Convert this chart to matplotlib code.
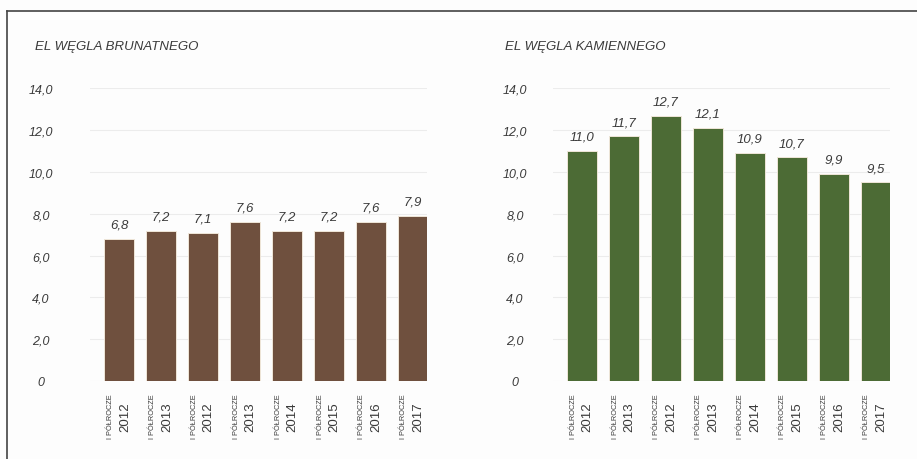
import matplotlib.pyplot as plt
from matplotlib.lines import Line2D
import matplotlib.transforms as mtransforms

plt.rcParams['font.family'] = ['Liberation Sans', 'DejaVu Sans']

# Dane
okresy = ["I PÓŁROCZE"] * 8
lata = ["2012", "2013", "2012", "2013", "2014", "2015", "2016", "2017"]
brunatny = [6.8, 7.2, 7.1, 7.6, 7.2, 7.2, 7.6, 7.9]
kamienny = [11.0, 11.7, 12.7, 12.1, 10.9, 10.7, 9.9, 9.5]

yticks = [0, 2, 4, 6, 8, 10, 12, 14]
ytick_labels = ["0", "2,0", "4,0", "6,0", "8,0", "10,0", "12,0", "14,0"]

kolor_tekstu = "#3a3a3a"

fig = plt.figure(figsize=(9.17, 4.6), dpi=100, facecolor="#fdfdfd")

# ramka (tylko górna i lewa krawędź)
fig.add_artist(Line2D([7 / 917, 7 / 917], [0, 1 - 12 / 460], color="#444444", lw=1.2))
fig.add_artist(Line2D([7 / 917, 1], [1 - 12 / 460, 1 - 12 / 460], color="#444444", lw=1.2))


def wykres(left_px, wartosci, kolor, tytul, tytul_x, pad):
    ax = fig.add_axes([left_px / 917, 78 / 460, 337 / 917, 292.6 / 460])
    ax.set_facecolor("none")
    x = range(len(wartosci))
    ax.bar(x, wartosci, width=0.71, color=kolor, edgecolor="#efe6d8", linewidth=0.7, zorder=2)
    ax.set_xlim(-0.7, 7.33)
    ax.set_ylim(0, 14)
    ax.set_yticks(yticks)
    ax.set_yticklabels(ytick_labels, fontstyle="italic", fontsize=9, color=kolor_tekstu, ha="center")
    ax.tick_params(axis="y", length=0, pad=pad)
    ax.set_xticks([])
    for s in ax.spines.values():
        s.set_visible(False)
    ax.grid(axis="y", color="#ececec", linewidth=0.8, zorder=0)

    # etykiety wartości
    for i, v in enumerate(wartosci):
        ax.annotate(f"{v:.1f}".replace(".", ","), (i, v), xytext=(0, 6), textcoords="offset points",
                    ha="center", va="bottom", fontsize=9.5, fontstyle="italic", color=kolor_tekstu)

    # podpisy osi X: okres + rok, obrócone
    trans = mtransforms.blended_transform_factory(ax.transData, ax.transAxes)
    for i in x:
        ax.text(i - 0.21, -0.12, okresy[i], transform=trans, rotation=90, ha="center", va="center",
                fontsize=5.3, color=kolor_tekstu)
        ax.text(i + 0.14, -0.12, lata[i], transform=trans, rotation=90, ha="center", va="center",
                fontsize=9.5, color=kolor_tekstu)

    fig.text(tytul_x / 917, 1 - 50 / 460, tytul, fontsize=9.5, fontstyle="italic",
             color=kolor_tekstu, ha="left", va="baseline")
    return ax


wykres(89.6, brunatny, "#6f503e", "EL WĘGLA BRUNATNEGO", 35, 35)
wykres(552.5, kamienny, "#4c6b35", "EL WĘGLA KAMIENNEGO", 505, 27)

fig.savefig("out.png", dpi=100, facecolor=fig.get_facecolor())
